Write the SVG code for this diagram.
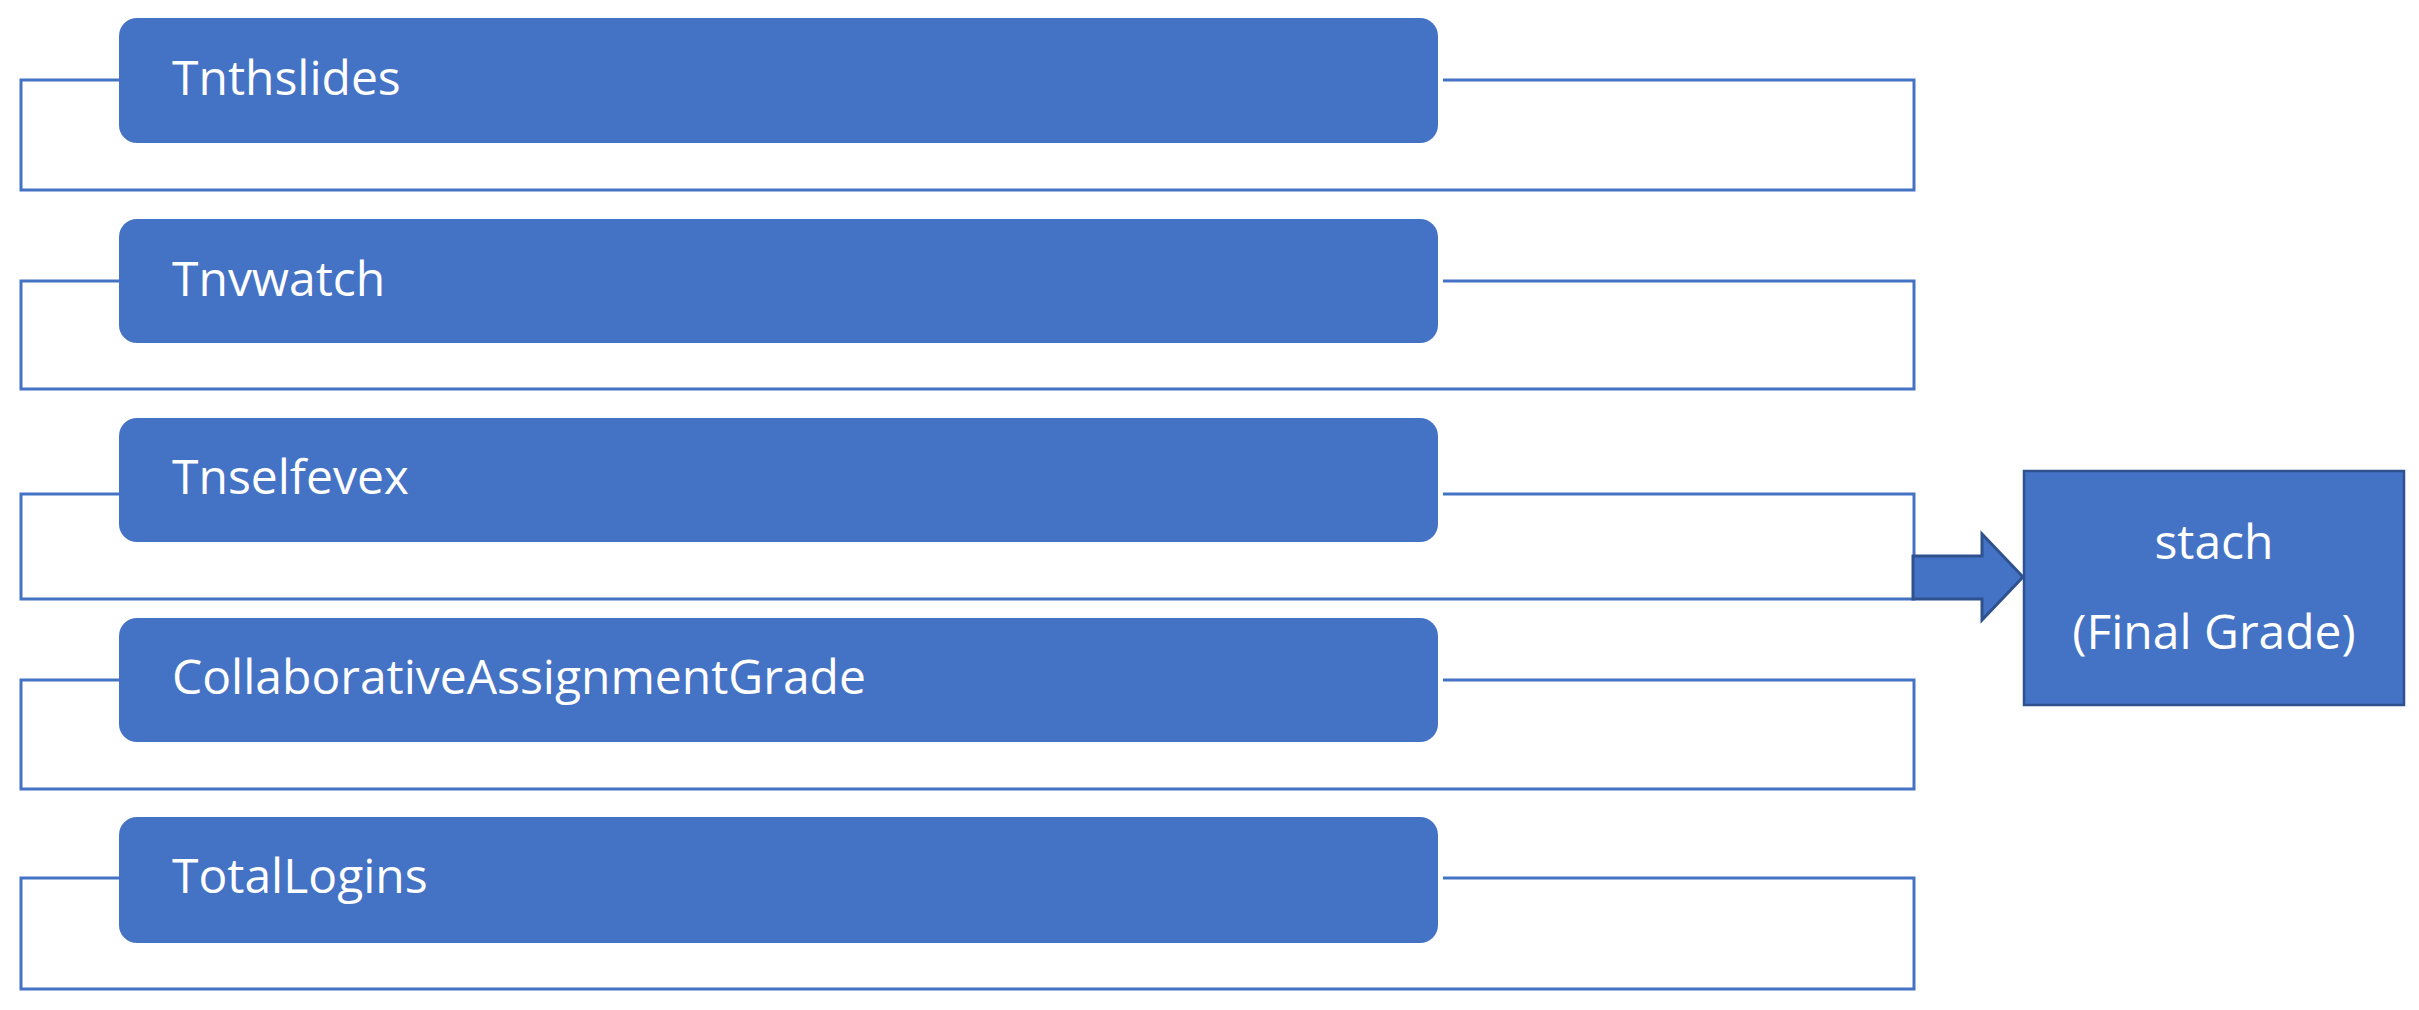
<svg xmlns="http://www.w3.org/2000/svg" width="2419" height="1010" viewBox="0 0 2419 1010">
<style>
.bg{fill:#ffffff}
.conn{fill:none;stroke:#4472C4;stroke-width:3}
.box{fill:#4472C4}
.lbl{font-family:"Open Sans","Liberation Sans",sans-serif;font-size:48px;fill:#ffffff}
.out{fill:#4472C4;stroke:#2F528F;stroke-width:2.5}
.arrow{fill:#4472C4;stroke:#2F528F;stroke-width:3;stroke-linejoin:miter}
</style>
<rect class="bg" x="0" y="0" width="2419" height="1010"/>
<g id="connectors">
  <path class="conn" d="M119 80 H21 V190 H1914 V80 H1443"/>
  <path class="conn" d="M119 281 H21 V389 H1914 V281 H1443"/>
  <path class="conn" d="M119 494 H21 V599 H1914 V494 H1443"/>
  <path class="conn" d="M119 680 H21 V789 H1914 V680 H1443"/>
  <path class="conn" d="M119 878 H21 V989 H1914 V878 H1443"/>
  <path class="arrow" d="M1913 556 H1982 V534 L2023 577 L1982 620 V599 H1913 Z"/>
</g>
<g id="node-tnthslides">
  <rect class="box" x="119" y="18" width="1319" height="125" rx="18"/>
  <text class="lbl" x="172" y="95">Tnthslides</text>
</g>
<g id="node-tnvwatch">
  <rect class="box" x="119" y="219" width="1319" height="124" rx="18"/>
  <text class="lbl" x="172" y="296">Tnvwatch</text>
</g>
<g id="node-tnselfevex">
  <rect class="box" x="119" y="418" width="1319" height="124" rx="18"/>
  <text class="lbl" x="172" y="494">Tnselfevex</text>
</g>
<g id="node-collab">
  <rect class="box" x="119" y="618" width="1319" height="124" rx="18"/>
  <text class="lbl" x="172" y="694">CollaborativeAssignmentGrade</text>
</g>
<g id="node-totallogins">
  <rect class="box" x="119" y="817" width="1319" height="126" rx="18"/>
  <text class="lbl" x="172" y="893">TotalLogins</text>
</g>
<g id="node-stach">
  <rect class="out" x="2024" y="471" width="380" height="234"/>
  <text class="lbl" x="2214" y="559" text-anchor="middle">stach</text>
  <text class="lbl" x="2214" y="649" text-anchor="middle">(Final Grade)</text>
</g>
</svg>
